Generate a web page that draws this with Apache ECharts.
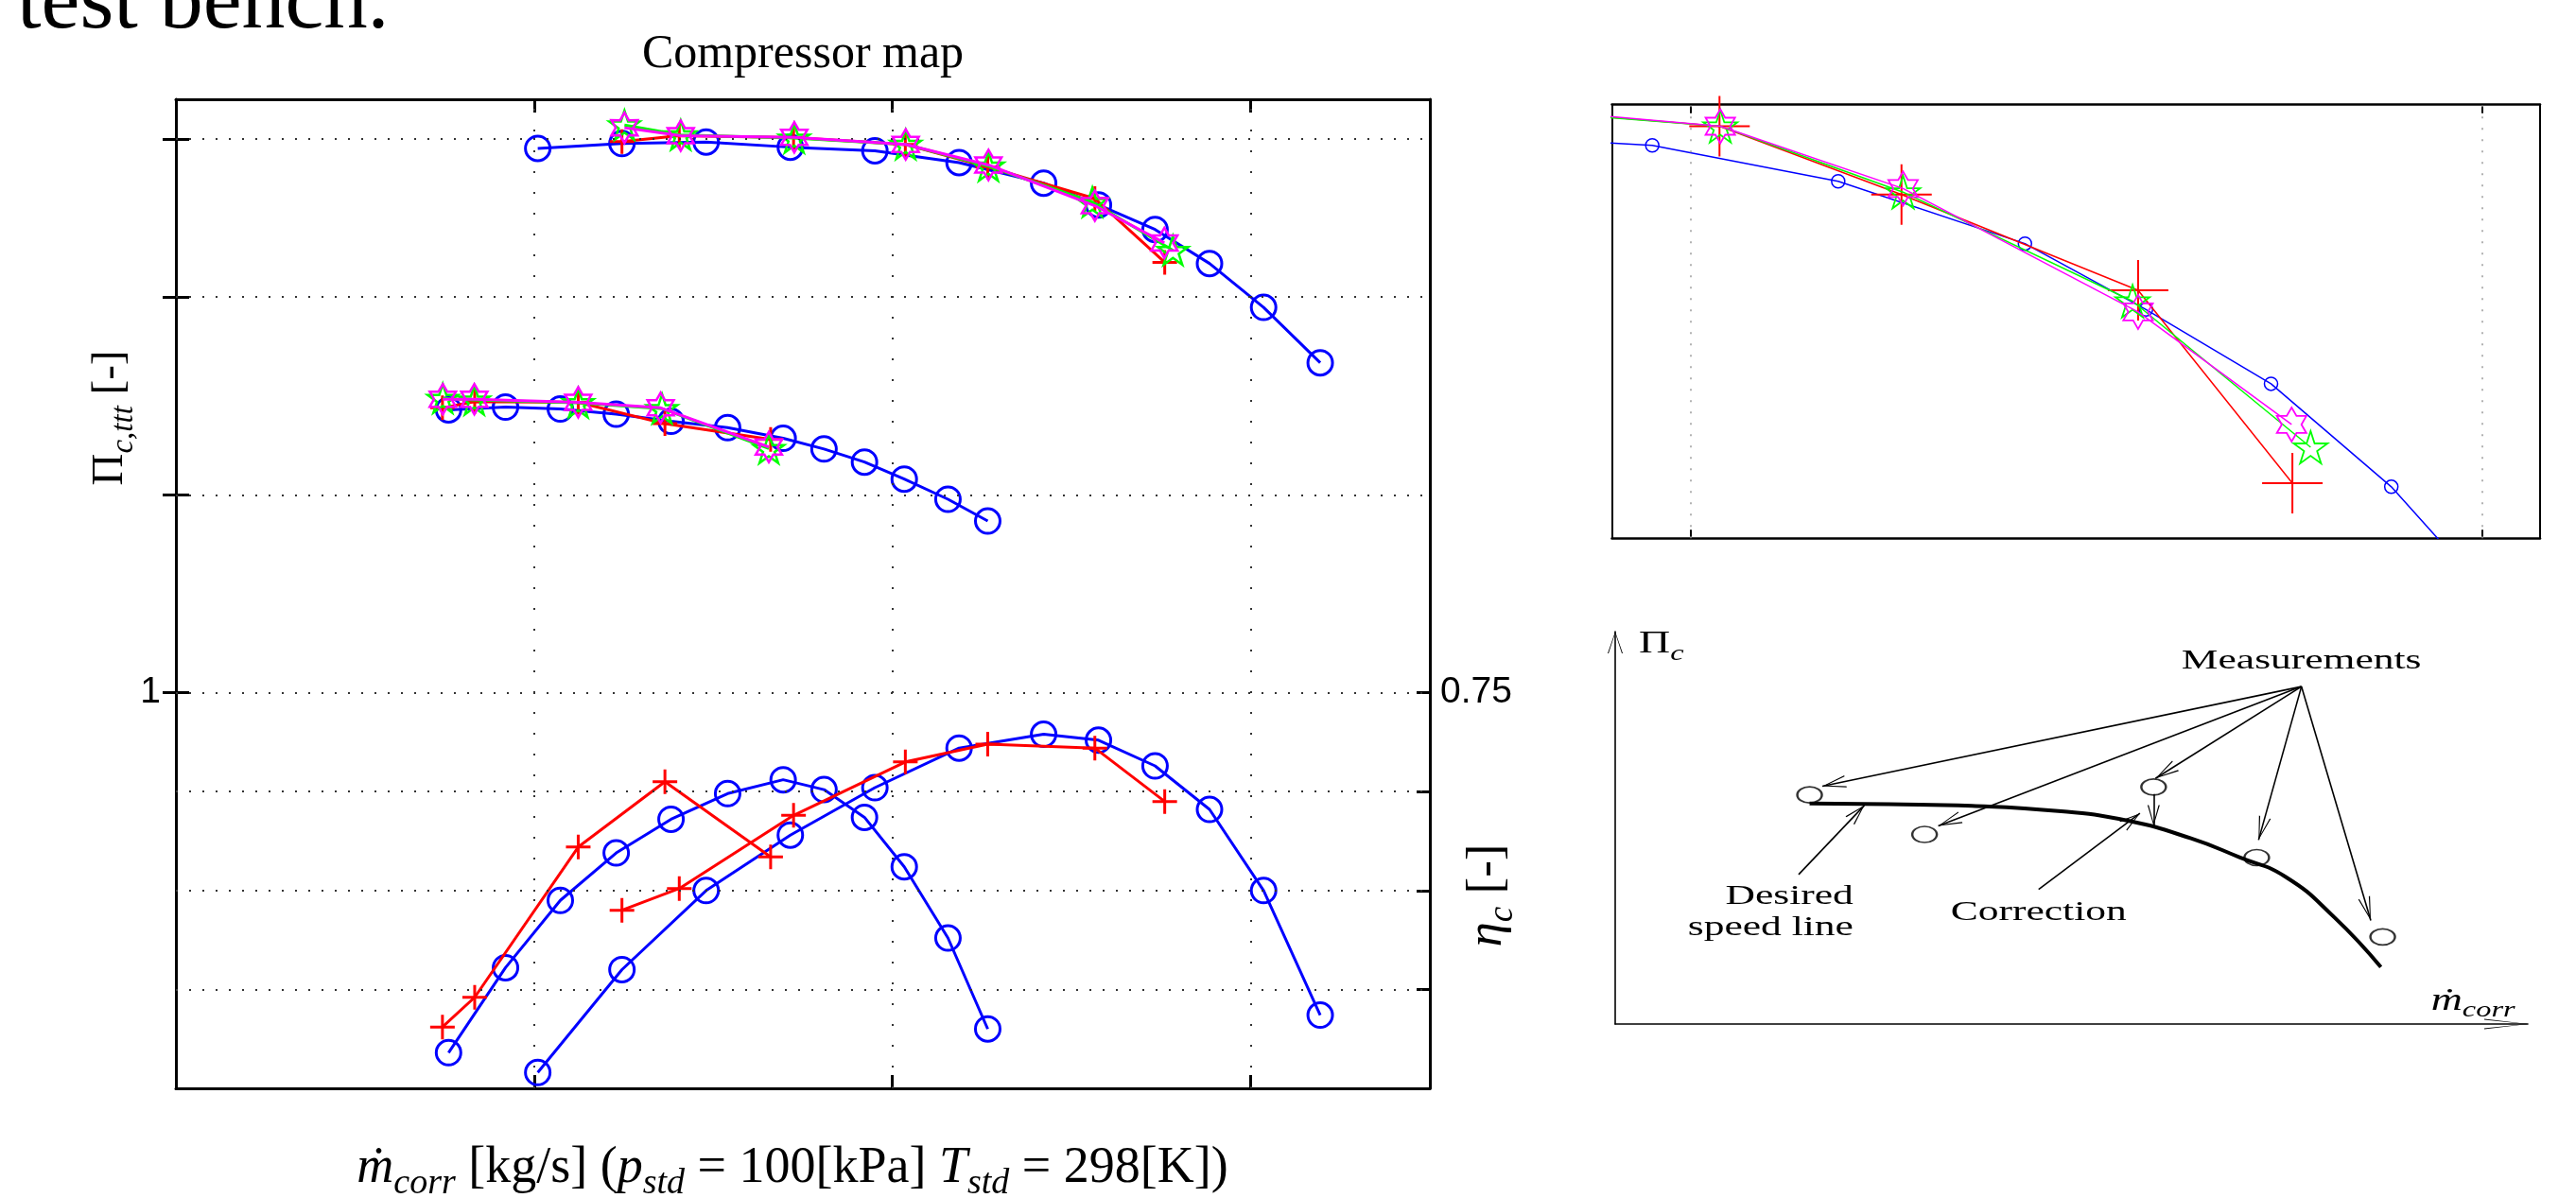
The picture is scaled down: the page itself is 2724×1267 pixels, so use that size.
<!DOCTYPE html>
<html><head><meta charset="utf-8">
<script src="https://cdn.jsdelivr.net/npm/echarts@6/dist/echarts.min.js"></script>
<style>html,body{margin:0;padding:0;background:#fff;}#c{width:2724px;height:1267px;}</style>
</head><body><div id="c"></div>
<script>
// ===== DATA =====
// upper speed line, reference (blue circles)
const refHiX   = [1.010, 1.245, 1.480, 1.715, 1.951, 2.186, 2.422, 2.575, 2.733, 2.885, 3.036, 3.194];
const refHiPi  = [2.376, 2.388, 2.392, 2.379, 2.370, 2.340, 2.288, 2.233, 2.171, 2.085, 1.974, 1.834];
const refHiEta = [0.558, 0.610, 0.650, 0.678, 0.702, 0.722, 0.729, 0.726, 0.713, 0.691, 0.650, 0.587];
// lower speed line, reference (blue circles)
const refLoX   = [0.761, 0.920, 1.073, 1.229, 1.382, 1.540, 1.695, 1.809, 1.922, 2.033, 2.155, 2.266];
const refLoPi  = [1.715, 1.722, 1.717, 1.704, 1.686, 1.670, 1.643, 1.616, 1.583, 1.540, 1.489, 1.434];
const refLoEta = [0.568, 0.611, 0.645, 0.669, 0.686, 0.699, 0.706, 0.701, 0.687, 0.662, 0.626, 0.580];
// measurements (red +)
const measHiX   = [1.245, 1.405, 1.724, 2.036, 2.266, 2.565, 2.760];
const measHiPi  = [2.393, 2.408, 2.403, 2.386, 2.329, 2.249, 2.088];
const measHiEta = [0.640, 0.651, 0.688, 0.715, 0.724, 0.722, 0.695];
const measLoX   = [0.744, 0.834, 1.123, 1.365, 1.660];
const measLoPi  = [1.720, 1.736, 1.734, 1.680, 1.640];
const measLoEta = [0.581, 0.596, 0.672, 0.705, 0.667];
// corrected A (green pentagram)
const corrAHiX  = [1.252, 1.409, 1.726, 2.037, 2.268, 2.558, 2.783];
const corrAHiPi = [2.435, 2.410, 2.402, 2.386, 2.331, 2.240, 2.118];
const corrALoX  = [0.745, 0.833, 1.123, 1.357, 1.655];
const corrALoPi = [1.744, 1.740, 1.733, 1.718, 1.617];
// corrected B (magenta hexagram)
const corrBHiX  = [1.252, 1.409, 1.726, 2.037, 2.268, 2.565, 2.759];
const corrBHiPi = [2.428, 2.408, 2.404, 2.386, 2.334, 2.231, 2.137];
const corrBLoX  = [0.745, 0.833, 1.123, 1.353, 1.655];
const corrBLoPi = [1.742, 1.742, 1.734, 1.720, 1.621];
// ticks
const xTicks = [1, 2, 3];
const piTicks = [1, 1.5, 2, 2.4];
const piLabels = [1];
const etaTicks = [0.6, 0.65, 0.7, 0.75];
const etaLabels = [0.75];
const insetXTicks = [2, 3];
// schematic (arbitrary units 0..100)
const sketchCurveX = [21.3, 30.0, 39.1, 48.9, 56.2, 63.1, 68.4, 73.4, 78.8, 83.9];
const sketchCurveY = [56.2, 56.0, 55.6, 54.2, 51.8, 47.3, 42.5, 37.6, 27.2, 14.5];
const sketchPointX = [21.3, 33.9, 59.0, 70.3, 84.1];
const sketchPointY = [58.4, 48.3, 60.4, 42.4, 22.2];
const measOrigin = [75.2, 86.0];
const measTipX = [22.7, 35.4, 59.2, 70.5, 82.8];
const measTipY = [60.6, 50.5, 62.6, 46.9, 26.4];
const corrArrowFrom = [59.0, 58.6], corrArrowTo = [59.0, 50.5];
const desiredFrom = [20.1, 38.1], desiredTo = [27.3, 55.7];
const correctionFrom = [46.4, 34.3], correctionTo = [57.5, 53.7];

// ===== helpers =====
const zip = (xs, ys) => xs.map((x, i) => [x, ys[i]]);
const SERIF = '"Liberation Serif","Times New Roman",serif';
const SANS = '"Liberation Sans",Arial,sans-serif';
const CIRCLE = 'path://M0,50A50,50,0,1,1,100,50A50,50,0,1,1,0,50Z';
const PLUS = 'path://M50,0L50,100M0,50L100,50';
function starPath(n, ratio) {
  let d = '';
  for (let k = 0; k < 2 * n; k++) {
    const r = (k % 2) ? 50 * ratio : 50;
    const a = -Math.PI / 2 + k * Math.PI / n;
    d += (k ? 'L' : 'M') + (50 + r * Math.cos(a)).toFixed(2) + ',' + (50 + r * Math.sin(a)).toFixed(2);
  }
  return 'path://' + d + 'Z';
}
const PENTA = starPath(5, 0.382);
const HEXA = starPath(6, 0.577);
const VARROW = 'path://M5,-12M5,0L10,12L9,12L5,1.8L1,12L0,12Z';
const YARROW = 'path://M8,-23M8,0L16,23L15,23L8,1.5L1,23L0,23Z';
const XARROW = 'path://M5.5,-46M5.5,0L11,46L10,46L5.5,2L1,46L0,46Z';

function ser(data, color, symbol, size, lw, bw, xi, yi, z) {
  return {
    type: 'line', data: data, xAxisIndex: xi, yAxisIndex: yi, z: z,
    symbol: symbol, symbolSize: size, symbolKeepAspect: true, showAllSymbol: true,
    lineStyle: { color: color, width: lw },
    itemStyle: { color: 'rgba(0,0,0,0)', borderColor: color, borderWidth: bw },
    emphasis: { disabled: true }, silent: true, clip: true
  };
}
const BLUE = '#0000ff', RED = '#ff0000', GREEN = '#00ff00', MAG = '#ff00ff';

const series = [
  // grid lines (main)
  { type: 'line', data: [], xAxisIndex: 0, yAxisIndex: 0, z: 1, silent: true,
    markLine: { silent: true, animation: false, symbol: ['none', 'none'], label: { show: false },
      lineStyle: { color: '#333', width: 2, type: [2, 12] },
      data: piTicks.map(v => ({ yAxis: v })).concat(xTicks.map(v => ({ xAxis: v, lineStyle: { type: [2, 20] } }))) } },
  { type: 'line', data: [], xAxisIndex: 0, yAxisIndex: 1, z: 1, silent: true,
    markLine: { silent: true, animation: false, symbol: ['none', 'none'], label: { show: false },
      lineStyle: { color: '#333', width: 2, type: [2, 12] },
      data: etaTicks.map(v => ({ yAxis: v })) } },
  // inset grid lines
  { type: 'line', data: [], xAxisIndex: 2, yAxisIndex: 3, z: 1, silent: true,
    markLine: { silent: true, animation: false, symbol: ['none', 'none'], label: { show: false },
      lineStyle: { color: '#999', width: 1.5, type: [2, 10] },
      data: insetXTicks.map(v => ({ xAxis: v })) } },
  // main: reference
  ser(zip(refHiX, refHiPi), BLUE, CIRCLE, 26, 3, 3, 0, 0, 2),
  ser(zip(refLoX, refLoPi), BLUE, CIRCLE, 26, 3, 3, 0, 0, 2),
  ser(zip(refHiX, refHiEta), BLUE, CIRCLE, 26, 3, 3, 0, 1, 2),
  ser(zip(refLoX, refLoEta), BLUE, CIRCLE, 26, 3, 3, 0, 1, 2),
  // main: measurements
  ser(zip(measHiX, measHiPi), RED, PLUS, 26, 3, 3, 0, 0, 3),
  ser(zip(measLoX, measLoPi), RED, PLUS, 26, 3, 3, 0, 0, 3),
  ser(zip(measHiX, measHiEta), RED, PLUS, 26, 3, 3, 0, 1, 3),
  ser(zip(measLoX, measLoEta), RED, PLUS, 26, 3, 3, 0, 1, 3),
  // main: corrected
  ser(zip(corrAHiX, corrAHiPi), GREEN, PENTA, 32, 3, 2.5, 0, 0, 4),
  ser(zip(corrALoX, corrALoPi), GREEN, PENTA, 32, 3, 2.5, 0, 0, 4),
  ser(zip(corrBHiX, corrBHiPi), MAG, HEXA, 32, 3, 2.5, 0, 0, 5),
  ser(zip(corrBLoX, corrBLoPi), MAG, HEXA, 32, 3, 2.5, 0, 0, 5),
  // inset
  ser(zip(refHiX, refHiPi), BLUE, CIRCLE, 14, 1.5, 1.5, 2, 3, 2),
  ser(zip(measHiX, measHiPi), RED, PLUS, 64, 1.5, 2, 2, 3, 3),
  ser(zip(corrAHiX, corrAHiPi), GREEN, PENTA, 36, 1.5, 1.8, 2, 3, 4),
  ser(zip(corrBHiX, corrBHiPi), MAG, HEXA, 36, 1.5, 1.8, 2, 3, 5),
  // schematic
  { type: 'line', data: zip(sketchCurveX, sketchCurveY), xAxisIndex: 4, yAxisIndex: 5, smooth: true,
    symbol: 'none', lineStyle: { color: '#000', width: 4 }, silent: true, z: 3,
    markLine: { silent: true, animation: false, symbol: ['none', 'none'], label: { show: false },
      lineStyle: { color: '#000', width: 1.6, type: 'solid' },
      data: measTipX.map((x, i) => [{ coord: measOrigin }, { coord: [x, measTipY[i]], symbol: VARROW, symbolSize: [13, 50] }])
        .concat([
          [{ coord: corrArrowFrom }, { coord: corrArrowTo, symbol: VARROW, symbolSize: [13, 44] }],
          [{ coord: desiredFrom }, { coord: desiredTo, symbol: VARROW, symbolSize: [13, 44] }],
          [{ coord: correctionFrom }, { coord: correctionTo, symbol: VARROW, symbolSize: [13, 44] }]
        ]) } },
  { type: 'scatter', data: zip(sketchPointX, sketchPointY), xAxisIndex: 4, yAxisIndex: 5,
    symbol: CIRCLE, symbolSize: [26, 17], z: 4, silent: true,
    itemStyle: { color: 'rgba(0,0,0,0)', borderColor: '#000', borderWidth: 2 } }
];

const axLine = (w) => ({ show: true, onZero: false, lineStyle: { color: '#000', width: w } });
const noLab = { show: false };
const noSplit = { show: false };

const option = {
  animation: false,
  backgroundColor: '#fff',
  grid: [
    { left: 186, top: 105, width: 1326, height: 1046, containLabel: false, outerBoundsMode: 'none' },
    { left: 1704.5, top: 110.7, width: 981.5, height: 458.6, containLabel: false, outerBoundsMode: 'none' },
    { left: 1708, top: 668, width: 965, height: 415, containLabel: false, outerBoundsMode: 'none' }
  ],
  xAxis: [
    { type: 'value', gridIndex: 0, position: 'bottom', min: 0, max: 3.5, interval: 1, axisLine: axLine(3),
      axisTick: { show: true, inside: true, length: 14, customValues: xTicks, lineStyle: { color: '#000', width: 3 } },
      axisLabel: noLab, splitLine: noSplit },
    { type: 'value', gridIndex: 0, position: 'top', min: 0, max: 3.5, interval: 1, axisLine: axLine(3),
      axisTick: { show: true, inside: true, length: 14, customValues: xTicks, lineStyle: { color: '#000', width: 3 } },
      axisLabel: noLab, splitLine: noSplit },
    { type: 'value', gridIndex: 1, position: 'bottom', min: 1.9, max: 3.073, axisLine: axLine(2.5),
      axisTick: { show: true, inside: true, length: 9, customValues: insetXTicks, lineStyle: { color: '#000', width: 2 } },
      axisLabel: noLab, splitLine: noSplit },
    { type: 'value', gridIndex: 1, position: 'top', min: 1.9, max: 3.073, axisLine: axLine(2.5),
      axisTick: { show: true, inside: true, length: 9, customValues: insetXTicks, lineStyle: { color: '#000', width: 2 } },
      axisLabel: noLab, splitLine: noSplit },
    { type: 'value', gridIndex: 2, position: 'bottom', min: 0, max: 100,
      axisLine: { show: true, onZero: false, symbol: ['none', XARROW], symbolSize: [11, 92], lineStyle: { color: '#000', width: 1.6 } },
      axisTick: { show: false }, axisLabel: noLab, splitLine: noSplit }
  ],
  yAxis: [
    { type: 'value', gridIndex: 0, position: 'left', min: 0, max: 2.5, axisLine: axLine(3),
      axisTick: { show: true, inside: true, length: 14, customValues: piTicks, lineStyle: { color: '#000', width: 3 } },
      axisLabel: { show: true, customValues: piLabels, margin: 16, color: '#000', fontFamily: SANS, fontSize: 39 },
      splitLine: noSplit },
    { type: 'value', gridIndex: 0, position: 'right', min: 0.55, max: 1.05, axisLine: axLine(3),
      axisTick: { show: true, inside: true, length: 14, customValues: etaTicks, lineStyle: { color: '#000', width: 3 } },
      axisLabel: { show: true, customValues: etaLabels, margin: 11, color: '#000', fontFamily: SANS, fontSize: 39 },
      splitLine: noSplit },
    { type: 'value', gridIndex: 0, position: 'right', min: 0, max: 2.5, axisLine: { show: false },
      axisTick: { show: true, inside: true, length: 14, customValues: piTicks, lineStyle: { color: '#000', width: 3 } },
      axisLabel: noLab, splitLine: noSplit },
    { type: 'value', gridIndex: 1, position: 'left', min: 2.042, max: 2.404, axisLine: axLine(2),
      axisTick: { show: false }, axisLabel: noLab, splitLine: noSplit },
    { type: 'value', gridIndex: 1, position: 'right', min: 2.042, max: 2.404, axisLine: axLine(2),
      axisTick: { show: false }, axisLabel: noLab, splitLine: noSplit },
    { type: 'value', gridIndex: 2, position: 'left', min: 0, max: 100,
      axisLine: { show: true, onZero: false, symbol: ['none', YARROW], symbolSize: [16, 46], lineStyle: { color: '#000', width: 1.6 } },
      axisTick: { show: false }, axisLabel: noLab, splitLine: noSplit }
  ],
  series: series
};

const chart = echarts.init(document.getElementById('c'), null, { renderer: 'canvas', width: 2724, height: 1267 });
chart.setOption(option);

// ===== text (labels / annotations) =====
function rich(S) {
  const L = Math.round(S * 1.3);
  return {
    r: { fontFamily: SERIF, fontSize: S, lineHeight: L, verticalAlign: 'middle', fill: '#000' },
    i: { fontFamily: SERIF, fontSize: S, fontStyle: 'italic', lineHeight: L, verticalAlign: 'middle', fill: '#000' },
    s: { fontFamily: SERIF, fontSize: Math.round(S * 0.7), fontStyle: 'italic', lineHeight: L, verticalAlign: 'middle', padding: [Math.round(S * 0.6), 0, 0, 0], fill: '#000' }
  };
}
const graphics = [
  { type: 'text', x: 18, y: 5, silent: true, style: { text: 'test bench.', font: '92px ' + SERIF, fill: '#000', align: 'left', verticalAlign: 'middle' } },
  { type: 'text', x: 849, y: 58, silent: true, style: { text: 'Compressor map', font: '50px ' + SERIF, fill: '#000', align: 'center', verticalAlign: 'middle' } },
  { type: 'text', x: 838, y: 1236, silent: true, style: { text: '{i|ṁ}{s|corr}{r| [kg/s] (}{i|p}{s|std}{r| = 100[kPa] }{i|T}{s|std}{r| = 298[K])}', rich: rich(54), align: 'center', verticalAlign: 'middle' } },
  { type: 'text', x: 117, y: 442, rotation: Math.PI / 2, silent: true, style: { text: '{r|Π}{s|c,ttt}{r| [-]}', rich: rich(47), align: 'center', verticalAlign: 'middle' } },
  { type: 'text', x: 1573, y: 947, rotation: Math.PI / 2, silent: true, style: { text: '{i|η}{s|c}{r| [-]}', rich: rich(53), align: 'center', verticalAlign: 'middle' } }
];
// schematic annotations anchored in the schematic's own axes (baseline points)
const sketchText = [
  { text: 'Measurements', at: [75.2, 90.0], align: 'center' },
  { text: 'Desired', at: [26.1, 30.0], align: 'right' },
  { text: 'speed line', at: [26.1, 22.2], align: 'right' },
  { text: 'Correction', at: [46.4, 26.0], align: 'center' }
];
const SK = 30, STRETCH = 1.45;
sketchText.forEach(t => {
  const p = chart.convertToPixel({ gridIndex: 2 }, t.at);
  graphics.push({ type: 'text', x: p[0], y: p[1] - 0.3375 * SK, scaleX: STRETCH, silent: true,
    style: { text: t.text, font: SK + 'px ' + SERIF, fill: '#000', align: t.align, verticalAlign: 'middle' } });
});
const LK = 34;
const piPos = chart.convertToPixel({ gridIndex: 2 }, [2.6, 94.0]);
graphics.push({ type: 'text', x: piPos[0], y: piPos[1] - 0.3375 * LK, scaleX: 1.35, silent: true,
  style: { text: '{r|Π}{s|c}', rich: rich(LK), align: 'left', verticalAlign: 'middle' } });
const mPos = chart.convertToPixel({ gridIndex: 2 }, [89.4, 3.1]);
graphics.push({ type: 'text', x: mPos[0], y: mPos[1] - 0.3375 * LK, scaleX: 1.35, silent: true,
  style: { text: '{i|ṁ}{s|corr}', rich: rich(LK), align: 'left', verticalAlign: 'middle' } });

chart.setOption({ graphic: graphics });
</script>
</body></html>
